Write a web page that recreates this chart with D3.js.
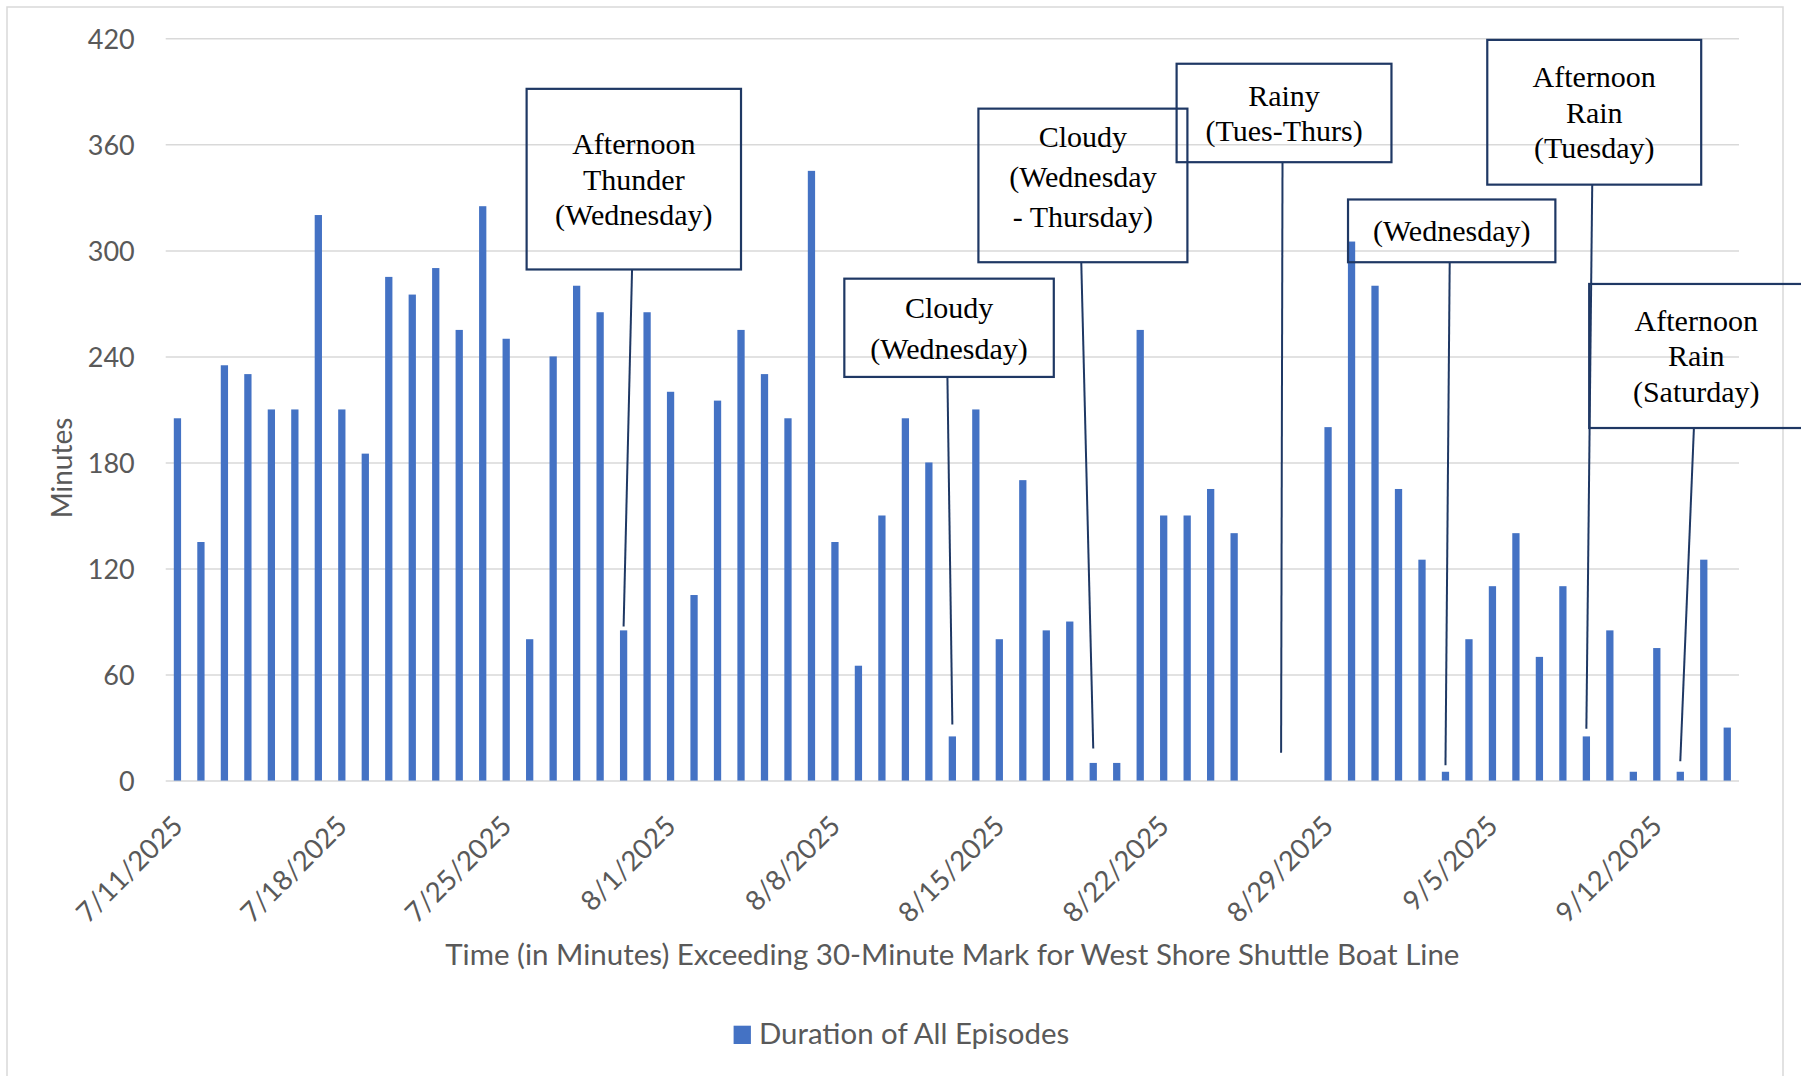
<!DOCTYPE html>
<html>
<head>
<meta charset="utf-8">
<script src="https://cdn.jsdelivr.net/npm/d3@7"></script>
<style>
  html, body { margin: 0; padding: 0; background: #fff; }
  svg { display: block; }
</style>
</head>
<body>
<svg id="chart" width="1801" height="1076"></svg>
<script>
// Daily minutes beyond the 30-minute mark, 7/11/2025 – 9/15/2025
const startDay = new Date(2025, 6, 11);
const endDay = new Date(2025, 8, 16);
const days = d3.timeDay.range(startDay, endDay);

const minutes = [
  205, 135, 235, 230, 210, 210, 320, 210, 185, 285,
  275, 290, 255, 325, 250, 80, 240, 280, 265, 85,
  265, 220, 105, 215, 255, 230, 205, 345, 135, 65,
  150, 205, 180, 25, 210, 80, 170, 85, 90, 10,
  10, 255, 150, 150, 165, 140, 0, 0, 0, 200,
  305, 280, 165, 125, 5, 80, 110, 140, 70, 110,
  25, 85, 5, 75, 5, 125, 30
];

const tickDays = [
  "7/11/2025", "7/18/2025", "7/25/2025", "8/1/2025", "8/8/2025",
  "8/15/2025", "8/22/2025", "8/29/2025", "9/5/2025", "9/12/2025"
];
const yTicks = [0, 60, 120, 180, 240, 300, 360, 420];

const seriesName = "Duration of All Episodes";
const yTitle = "Minutes";
const xTitle = "Time (in Minutes) Exceeding 30-Minute Mark for West Shore Shuttle Boat Line";

// Weather callouts: label lines and the day each one points at
const callouts = [
  { lines: ["Afternoon", "Thunder", "(Wednesday)"], day: "7/30/2025" },
  { lines: ["Cloudy", "(Wednesday)"], day: "8/13/2025" },
  { lines: ["Cloudy", "(Wednesday", "- Thursday)"], day: "8/19/2025" },
  { lines: ["Rainy", "(Tues-Thurs)"], day: "8/27/2025" },
  { lines: ["(Wednesday)"], day: "9/3/2025" },
  { lines: ["Afternoon", "Rain", "(Tuesday)"], day: "9/9/2025" },
  { lines: ["Afternoon", "Rain", "(Saturday)"], day: "9/13/2025" }
];

// Callout placement in axis units: x in day slots, y in minutes
const calloutLayout = [
  { x0: 15.37, x1: 24.50, top: 391.4, bottom: 289.2, stem: 19.86, tip: 87.2, lh: 35.5, shift: 0 },
  { x0: 28.90, x1: 37.82, top: 284.0, bottom: 228.4, stem: 33.29, tip: 31.8, lh: 40.5, shift: 0 },
  { x0: 34.61, x1: 43.51, top: 380.2, bottom: 293.3, stem: 38.99, tip: 18.2, lh: 40, shift: -9 },
  { x0: 43.05, x1: 52.20, top: 405.6, bottom: 349.9, stem: 47.56, tip: 15.8, lh: 35.8, shift: 0 },
  { x0: 50.35, x1: 59.18, top: 328.8, bottom: 293.3, stem: 54.68, tip: 8.7, lh: 35.5, shift: 0 },
  { x0: 56.28, x1: 65.39, top: 419.1, bottom: 337.2, stem: 60.75, tip: 29.3, lh: 35.5, shift: 0 },
  { x0: 60.62, x1: 69.74, top: 281.0, bottom: 199.5, stem: 65.08, tip: 10.95, lh: 35.5, shift: 0 }
];

const fmt = d3.timeFormat("%-m/%-d/%Y");
const parse = d3.timeParse("%m/%d/%Y");
const data = days.map((d, i) => ({ day: d, key: fmt(d), value: minutes[i] }));

const svg = d3.select("#chart");
const W = 1801, H = 1076;
const plot = { left: 165.7, right: 1739, top: 38.3, bottom: 780.6 };

const sans = "Lato, 'Open Sans', sans-serif";
const serif = "'Liberation Serif', 'Times New Roman', serif";
const textGray = "#595959";
const gridGray = "#d9d9d9";
const barBlue = "#4472C4";
const navy = "#1F3864";

const x = d3.scaleBand()
  .domain(data.map(d => d.key))
  .range([plot.left, plot.right])
  .paddingInner(0.69)
  .paddingOuter(0.345);

const y = d3.scaleLinear().domain([0, 420]).range([plot.bottom, plot.top]);

const slot = u => plot.left + u * x.step();
const center = key => x(key) + x.bandwidth() / 2;

// Chart area frame
svg.append("rect")
  .attr("x", 7).attr("y", 7)
  .attr("width", 1776).attr("height", H + 40)
  .attr("fill", "none")
  .attr("stroke", gridGray)
  .attr("stroke-width", 1.5);

// Horizontal gridlines with value labels
const yAxis = svg.append("g")
  .attr("transform", `translate(${plot.left},0)`)
  .call(d3.axisLeft(y).tickValues(yTicks).tickSize(-(plot.right - plot.left)).tickPadding(31));
yAxis.select(".domain").remove();
yAxis.selectAll(".tick line").attr("stroke", gridGray).attr("stroke-width", 1.5);
yAxis.selectAll(".tick text")
  .attr("fill", textGray)
  .style("font-family", sans)
  .style("font-size", "27px")
  .attr("dy", "0.36em");

// Bars
svg.append("g")
  .selectAll("rect")
  .data(data)
  .join("rect")
  .attr("x", d => x(d.key))
  .attr("width", x.bandwidth())
  .attr("y", d => y(d.value))
  .attr("height", d => y(0) - y(d.value))
  .attr("fill", barBlue);

// Date labels
const xAxis = svg.append("g")
  .attr("transform", `translate(0,${plot.bottom})`)
  .call(d3.axisBottom(x).tickValues(tickDays.map(s => fmt(parse(s)))).tickSize(0));
xAxis.select(".domain").remove();
xAxis.selectAll(".tick text")
  .attr("y", 0)
  .attr("dy", "0.36em")
  .attr("transform", "translate(0,40) rotate(-45)")
  .attr("text-anchor", "end")
  .attr("fill", textGray)
  .style("font-family", sans)
  .style("font-size", "27.5px");

// Axis titles
svg.append("text")
  .attr("transform", "translate(62,468) rotate(-90)")
  .attr("text-anchor", "middle")
  .attr("dy", "0.36em")
  .attr("fill", textGray)
  .style("font-family", sans)
  .style("font-size", "28px")
  .text(yTitle);

svg.append("text")
  .attr("x", (plot.left + plot.right) / 2)
  .attr("y", 965)
  .attr("text-anchor", "middle")
  .attr("fill", textGray)
  .style("font-family", sans)
  .style("font-size", "29.5px")
  .text(xTitle);

// Legend
const legend = svg.append("g").attr("transform", "translate(733.6,1025.7)");
legend.append("rect").attr("width", 17.3).attr("height", 18.3).attr("fill", barBlue);
legend.append("text")
  .attr("x", 25.4).attr("y", 18)
  .attr("fill", textGray)
  .style("font-family", sans)
  .style("font-size", "29.4px")
  .text(seriesName);

// Callouts
const notes = svg.append("g");
callouts.forEach((c, i) => {
  const L = calloutLayout[i];
  const bx0 = slot(L.x0), bx1 = slot(L.x1);
  const by0 = y(L.top), by1 = y(L.bottom);
  const g = notes.append("g");
  g.append("rect")
    .attr("x", bx0).attr("y", by0)
    .attr("width", bx1 - bx0).attr("height", by1 - by0)
    .attr("fill", "none")
    .attr("stroke", navy)
    .attr("stroke-width", 2.2);
  g.append("line")
    .attr("x1", slot(L.stem)).attr("y1", by1)
    .attr("x2", center(fmt(parse(c.day)))).attr("y2", y(L.tip))
    .attr("stroke", navy)
    .attr("stroke-width", 2);
  const cx = (bx0 + bx1) / 2, cy = (by0 + by1) / 2 + L.shift;
  const n = c.lines.length;
  g.append("text")
    .attr("text-anchor", "middle")
    .attr("fill", "#000")
    .style("font-family", serif)
    .style("font-size", "30px")
    .selectAll("tspan")
    .data(c.lines)
    .join("tspan")
    .attr("x", cx)
    .attr("y", (d, k) => cy + (k - (n - 1) / 2) * L.lh + 10.5)
    .text(d => d);
});
</script>
</body>
</html>
